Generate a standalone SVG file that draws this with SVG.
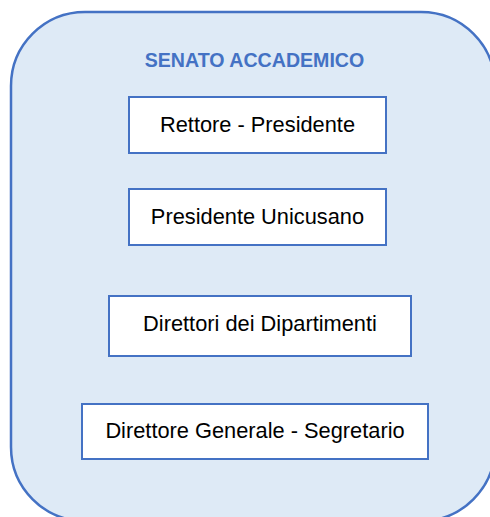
<svg xmlns="http://www.w3.org/2000/svg" width="490" height="517" viewBox="0 0 490 517">
<style>
.bg{fill:#DEEAF6;stroke:#4472C4;stroke-width:2.5}
.box{fill:#FFFFFF;stroke:#4472C4;stroke-width:2}
.t{font-family:"Liberation Sans",Arial,sans-serif;font-size:21.8px;fill:#000000;text-anchor:middle}
.title{font-family:"Liberation Sans",Arial,sans-serif;font-size:19.6px;font-weight:bold;fill:#4472C4;text-anchor:middle}
</style>
<rect width="490" height="517" fill="#FFFFFF"/>
<g id="senato">
<rect class="bg" x="11" y="12" width="484" height="509" rx="74" ry="74"/>
<text class="title" x="254.5" y="67">SENATO ACCADEMICO</text>
</g>
<g id="rettore">
<rect class="box" x="129" y="97" width="257" height="56"/>
<text class="t" x="257.5" y="131.5">Rettore - Presidente</text>
</g>
<g id="presidente">
<rect class="box" x="129" y="189" width="257" height="56"/>
<text class="t" x="257.5" y="223.5">Presidente Unicusano</text>
</g>
<g id="direttori">
<rect class="box" x="109" y="296" width="302" height="60"/>
<text class="t" x="260" y="331">Direttori dei Dipartimenti</text>
</g>
<g id="direttore-generale">
<rect class="box" x="82" y="404" width="346" height="55"/>
<text class="t" x="255" y="438">Direttore Generale - Segretario</text>
</g>
<g id="connectors"/>
</svg>
